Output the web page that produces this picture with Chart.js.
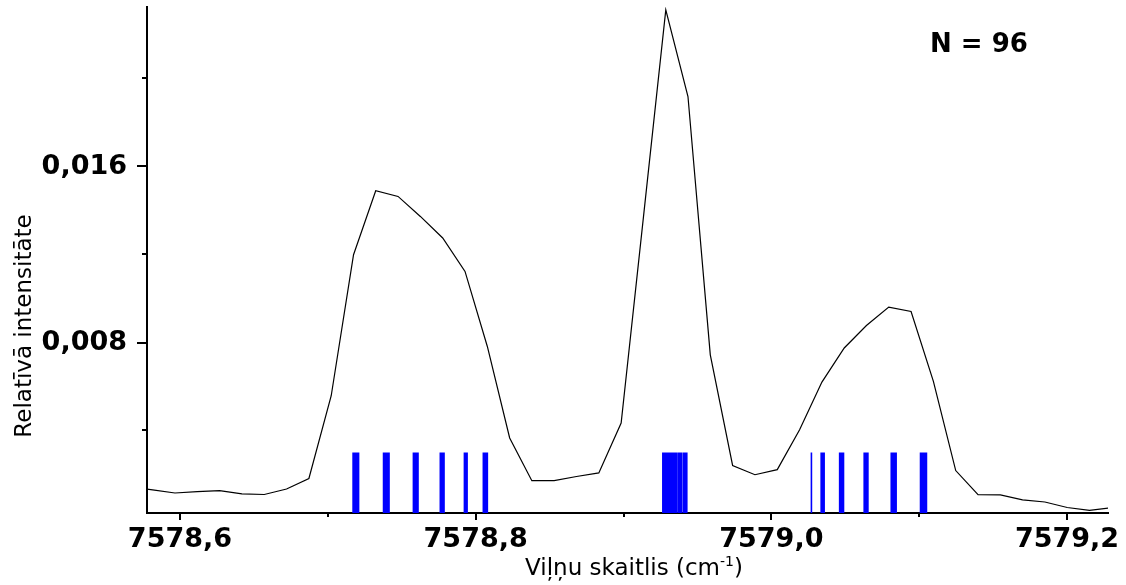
<!DOCTYPE html>
<html>
<head>
<meta charset="utf-8">
<script src="https://cdn.jsdelivr.net/npm/chart.js@4.4.1/dist/chart.umd.min.js"></script>
<style>
  html, body { margin: 0; padding: 0; background: #fff; }
  #wrap { width: 1126px; height: 585px; position: relative; }
</style>
</head>
<body>
<div id="wrap"><canvas id="c"></canvas></div>
<script>
// measured spectrum: wavenumber (cm-1) and relative intensity
const wavenumber = [
    7578.5664, 7578.5815, 7578.5966, 7578.6117, 7578.6268, 7578.6419, 7578.6570, 7578.6721,
    7578.6872, 7578.7023, 7578.7174, 7578.7324, 7578.7475, 7578.7626, 7578.7777, 7578.7928,
    7578.8079, 7578.8230, 7578.8380, 7578.8531, 7578.8682, 7578.8833, 7578.8984, 7578.9135,
    7578.9286, 7578.9436, 7578.9587, 7578.9738, 7578.9889, 7579.0040, 7579.0191, 7579.0342,
    7579.0493, 7579.0643, 7579.0794, 7579.0945, 7579.1096, 7579.1247, 7579.1398, 7579.1549,
    7579.1699, 7579.1850, 7579.2001, 7579.2152, 7579.2303
];
const intensity = [
    0.00143, 0.00130, 0.00116, 0.00122, 0.00127, 0.00112, 0.00109, 0.00134,
    0.00182, 0.00558, 0.01199, 0.01490, 0.01464, 0.01373, 0.01275, 0.01123,
    0.00782, 0.00366, 0.00172, 0.00172, 0.00191, 0.00207, 0.00434, 0.01371,
    0.02312, 0.01918, 0.00744, 0.00241, 0.00199, 0.00222, 0.00403, 0.00620,
    0.00775, 0.00877, 0.00961, 0.00941, 0.00623, 0.00218, 0.00108, 0.00107,
    0.00085, 0.00075, 0.00050, 0.00037, 0.00049
];

// calculated line positions (cm-1), N = 96
const linesA = [
    7578.7171, 7578.7176, 7578.7181, 7578.7187, 7578.7191, 7578.7197, 7578.7202, 7578.7208,
    7578.7377, 7578.7382, 7578.7388, 7578.7393, 7578.7398, 7578.7404, 7578.7409, 7578.7414,
    7578.7579, 7578.7584, 7578.7589, 7578.7594, 7578.7600, 7578.7605, 7578.7610,
    7578.7761, 7578.7766, 7578.7771, 7578.7776, 7578.7781, 7578.7786,
    7578.7924, 7578.7930, 7578.7936, 7578.7942,
    7578.8052, 7578.8058, 7578.8065, 7578.8072, 7578.8079
];
const linesB = [
    7578.9266, 7578.9271, 7578.9275, 7578.9280, 7578.9285, 7578.9290, 7578.9294,
    7578.9299, 7578.9304, 7578.9308, 7578.9313, 7578.9318, 7578.9322, 7578.9327,
    7578.9336, 7578.9342, 7578.9348, 7578.9355, 7578.9361,
    7578.9373, 7578.9380, 7578.9387, 7578.9394,
    7578.9407, 7578.9414, 7578.9421, 7578.9428
];
const linesC = [
    7579.0271,
    7579.0337, 7579.0344, 7579.0350, 7579.0357,
    7579.0462, 7579.0468, 7579.0475, 7579.0481, 7579.0488,
    7579.0628, 7579.0634, 7579.0640, 7579.0647, 7579.0653,
    7579.0811, 7579.0816, 7579.0822, 7579.0827, 7579.0833, 7579.0838, 7579.0844,
    7579.1009, 7579.1014, 7579.1019, 7579.1024, 7579.1029, 7579.1034, 7579.1039, 7579.1044, 7579.1049
];
const lineHeight = 0.003;

const xRange = [7578.5777, 7579.2277];
const yRange = [0.00025, 0.02325];

const FONT = "'DejaVu Sans', sans-serif";

const spectrum = wavenumber.map((x, i) => ({ x, y: intensity[i] }));

// each stick: base -> top, then a gap
const sticks = [];
[...linesA, ...linesB, ...linesC].forEach(x => {
    sticks.push({ x, y: 0 }, { x, y: lineHeight }, { x, y: null });
});

const isMajorX = v => Math.round(v * 10) % 2 === 0;
const isMajorY = v => Math.round(v * 250) % 2 === 0;

// tick marks of two lengths, axis titles and the N label
const decorPlugin = {
    id: 'decor',
    afterDraw(chart) {
        const ctx = chart.ctx;
        const xs = chart.scales.x;
        const ys = chart.scales.y;
        const area = chart.chartArea;

        ctx.save();
        ctx.strokeStyle = '#000';
        ctx.lineWidth = 2;
        ctx.beginPath();
        xs.ticks.forEach(t => {
            const px = Math.round(xs.getPixelForValue(t.value));
            const len = isMajorX(t.value) ? 7 : 4;
            ctx.moveTo(px, area.bottom);
            ctx.lineTo(px, area.bottom + len);
        });
        ys.ticks.forEach(t => {
            const py = Math.round(ys.getPixelForValue(t.value));
            const len = isMajorY(t.value) ? 10 : 5;
            ctx.moveTo(area.left, py);
            ctx.lineTo(area.left - len, py);
        });
        ctx.stroke();

        ctx.fillStyle = '#000';

        // x title with superscript
        const main = 'Viļņu skaitlis (cm';
        const sup = '-1';
        const tail = ')';
        ctx.font = '23px ' + FONT;
        const wMain = ctx.measureText(main).width;
        const wTail = ctx.measureText(tail).width;
        ctx.font = '14px ' + FONT;
        const wSup = ctx.measureText(sup).width;
        let tx = 634 - (wMain + wSup + wTail) / 2;
        const base = 575;
        ctx.textAlign = 'left';
        ctx.textBaseline = 'alphabetic';
        ctx.font = '23px ' + FONT;
        ctx.fillText(main, tx, base);
        tx += wMain;
        ctx.font = '14px ' + FONT;
        ctx.fillText(sup, tx, base - 9);
        tx += wSup;
        ctx.font = '23px ' + FONT;
        ctx.fillText(tail, tx, base);

        // y title
        ctx.save();
        ctx.translate(31, 326);
        ctx.rotate(-Math.PI / 2);
        ctx.textAlign = 'center';
        ctx.font = '23px ' + FONT;
        ctx.fillText('Relatīvā intensitāte', 0, 0);
        ctx.restore();

        ctx.font = 'bold 26px ' + FONT;
        ctx.textAlign = 'left';
        ctx.fillText('N = 96', 930, 52);
        ctx.restore();
    }
};

new Chart(document.getElementById('c'), {
    type: 'scatter',
    plugins: [decorPlugin],
    data: {
        datasets: [
            {
                label: 'lines',
                data: sticks,
                showLine: true,
                spanGaps: false,
                borderColor: '#0000ff',
                borderWidth: 1.6,
                pointRadius: 0,
                fill: false
            },
            {
                label: 'spectrum',
                data: spectrum,
                showLine: true,
                borderColor: '#000',
                borderWidth: 1.2,
                pointRadius: 0,
                tension: 0,
                fill: false
            }
        ]
    },
    options: {
        responsive: true,
        maintainAspectRatio: false,
        animation: false,
        events: [],
        layout: { padding: { top: 7, right: 18, left: 0, bottom: 0 } },
        plugins: {
            legend: { display: false },
            tooltip: { enabled: false }
        },
        scales: {
            x: {
                type: 'linear',
                min: xRange[0],
                max: xRange[1],
                afterFit: s => { s.height = 72; s.paddingLeft = 0; s.paddingRight = 0; },
                grid: { display: false, drawTicks: true, tickLength: 7 },
                border: { display: true, color: '#000', width: 2 },
                ticks: {
                    stepSize: 0.1,
                    includeBounds: false,
                    autoSkip: false,
                    maxRotation: 0,
                    padding: 4,
                    color: '#000',
                    font: { family: FONT, size: 27, weight: 'bold' },
                    callback: v => isMajorX(v) ? v.toFixed(1).replace('.', ',') : ''
                }
            },
            y: {
                type: 'linear',
                min: yRange[0],
                max: yRange[1],
                afterFit: s => { s.width = 147; s.paddingTop = 0; s.paddingBottom = 0; },
                grid: { display: false, drawTicks: true, tickLength: 10 },
                border: { display: true, color: '#000', width: 2 },
                ticks: {
                    stepSize: 0.004,
                    includeBounds: false,
                    autoSkip: false,
                    padding: 10,
                    color: '#000',
                    font: { family: FONT, size: 27, weight: 'bold' },
                    callback: v => isMajorY(v) ? v.toFixed(3).replace('.', ',') : ''
                }
            }
        }
    }
});
</script>
</body>
</html>
